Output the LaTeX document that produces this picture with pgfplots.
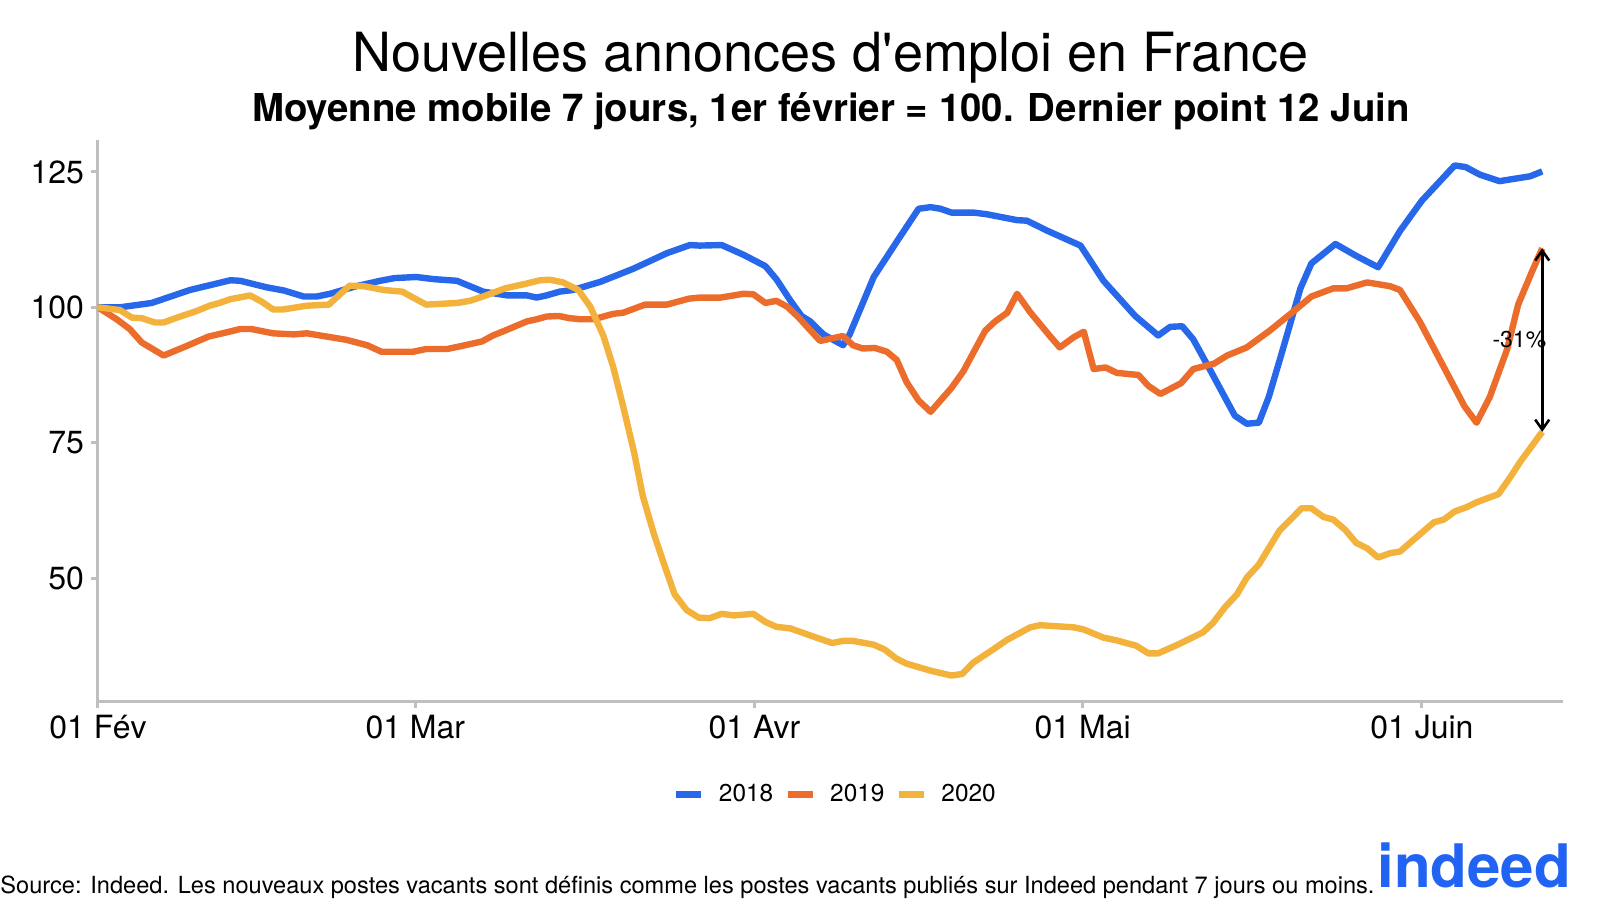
\documentclass[border=0pt]{standalone}
\usepackage{pgfplots}
\pgfplotsset{compat=1.18}
\usepackage{fontspec}
\setmainfont{TeX Gyre Heros}
\usetikzlibrary{arrows.meta}

\definecolor{c18}{HTML}{2767E9}
\definecolor{c19}{HTML}{EC6D2B}
\definecolor{c20}{HTML}{F3B23C}
\definecolor{axgray}{HTML}{BFBFBF}
\definecolor{indeedblue}{HTML}{2164F3}

% day 0 = 1 Feb, values: 7-day moving average, 1 Feb = 100
\pgfplotstableread{
x y
0 100
2 100
4.9 100.8
8.4 103.2
12.1 105.0
13.0 104.9
15.4 103.7
17 103.1
18.8 102.0
20 102.0
21.2 102.5
23.6 103.9
25.8 104.9
27.1 105.4
29.1 105.6
30.7 105.2
32.8 104.9
35.2 102.9
37.4 102.2
39.2 102.2
40.1 101.8
41.0 102.2
42.2 102.9
43.4 103.2
45.9 104.7
48.9 107.1
52.0 110.0
54.1 111.5
55.0 111.4
57.0 111.5
59.0 109.7
61.0 107.6
62.0 105.2
63.3 101.2
64.3 98.4
65.1 97.4
66.3 95.0
68.1 93.0
68.7 95.0
70.9 105.6
73.0 112.1
75.0 118.2
76.1 118.5
77.0 118.2
78.0 117.5
80.0 117.5
81.2 117.2
84.0 116.1
84.9 116.0
86.7 114.2
89.8 111.4
91.9 104.9
94.8 98.4
96.9 94.8
98.0 96.4
99.1 96.5
100.1 94.1
101.6 88.6
103.9 80.0
105.0 78.5
106.1 78.7
107.0 83.4
108.2 91.6
109.9 103.5
110.9 108.1
113.1 111.7
115.0 109.5
117.0 107.4
119.0 114.1
121.0 119.7
124.0 126.2
125.0 125.9
126.3 124.5
128.1 123.3
130.9 124.2
132.0 125.1
}\dataA

\pgfplotstableread{
x y
0 100
1.7 97.8
2.9 96.0
4.0 93.5
6.0 91.1
7.8 92.6
10.1 94.6
11.8 95.4
13.0 96.0
14.0 96.0
16.0 95.2
17.9 95.0
19.1 95.2
20.9 94.6
22.7 94.0
24.6 93.0
25.9 91.8
28.8 91.8
30.0 92.3
31.9 92.3
33.1 92.8
35.1 93.7
36.1 94.8
37.2 95.7
39.2 97.4
40.1 97.8
41.0 98.3
42.1 98.4
43.1 98.0
44.1 97.8
45.3 97.8
47.1 98.8
48.0 99.0
50.0 100.5
52.0 100.5
54.0 101.6
55.0 101.8
56.9 101.8
59.0 102.5
59.9 102.4
61.0 100.8
62.0 101.2
63.0 100.1
64.0 98.2
66.0 93.8
68.1 94.7
69.0 93.0
69.9 92.4
71.0 92.5
72.1 91.8
73.0 90.3
73.9 86.2
75.0 82.8
76.1 80.7
78.0 85.1
79.1 88.2
80.0 91.6
81.1 95.7
82.0 97.4
83.1 99.0
84.0 102.5
85.2 99.1
87.0 94.7
87.9 92.6
89.2 94.5
90.1 95.5
91.0 88.6
92.1 88.9
93.1 87.9
95.1 87.5
96.0 85.5
97.1 84.0
99.0 86.0
100.1 88.6
102.0 89.6
103.2 91.1
105.0 92.6
107.1 95.7
109.0 98.8
110.9 102.0
112.9 103.5
114.1 103.5
116.0 104.6
118.1 103.9
119.0 103.2
120.8 97.4
123.1 88.6
124.9 81.7
126.0 78.7
127.2 83.4
128.8 92.3
129.8 100.5
131.0 106.3
132.0 110.9
}\dataB

\pgfplotstableread{
x y
0 100
2.0 99.5
3.1 98.1
4.0 98.0
5.2 97.2
6.0 97.2
7.5 98.3
9.0 99.3
10.2 100.3
11.1 100.8
12.1 101.5
13.9 102.2
15.0 101.0
16.0 99.6
16.9 99.6
19.1 100.3
21.1 100.5
22.0 102.2
23.0 104.0
24.3 103.9
26.1 103.2
27.8 102.9
28.8 101.8
30.0 100.5
32.8 100.8
34.0 101.2
35.2 102.0
37.2 103.5
39.2 104.4
40.4 105.0
41.3 105.1
42.5 104.6
43.9 103.2
45.0 100.1
46.2 94.7
47.1 88.9
48.0 81.7
49.0 73.2
49.8 65.1
50.8 58.2
51.7 52.8
52.7 47.0
53.8 44.1
54.9 42.7
55.9 42.6
57.0 43.4
58.1 43.1
59.9 43.4
61.0 41.9
62.0 41.0
63.3 40.7
65.1 39.4
67.1 38.0
68.1 38.4
69.0 38.4
70.9 37.7
71.9 36.8
73.0 35.1
73.9 34.2
76.1 32.9
78.0 32.0
79.0 32.3
80.0 34.4
81.8 36.8
83.1 38.6
85.2 40.9
86.1 41.3
89.2 40.9
90.1 40.5
91.9 39.0
93.1 38.5
94.9 37.5
96.0 36.1
96.9 36.1
98.9 37.9
101.0 40.0
101.9 41.7
103.0 44.6
104.1 47.0
105.0 50.1
106.1 52.5
107.0 55.5
108.0 58.8
109.1 61.0
110.0 62.9
110.9 62.9
112.0 61.3
112.9 60.8
114.0 58.9
115.0 56.5
116.0 55.5
117.0 53.8
118.1 54.6
119.0 54.9
121.0 58.4
122.1 60.3
123.0 60.8
124.0 62.3
125.1 63.1
126.0 64.0
128.0 65.5
129.1 68.7
130.0 71.5
132.0 77.0
}\dataC

\begin{document}
\begin{tikzpicture}
\useasboundingbox (-49pt,-102pt) rectangle (751pt,350.5pt);
\begin{axis}[
  at={(0,0)}, anchor=south west,
  scale only axis, width=732.5pt, height=280.5pt,
  xmin=0, xmax=133.9, ymin=27.3, ymax=130.9,
  axis lines*=left,
  axis line style={axgray, line width=1.5pt},
  every tick/.style={axgray, line width=1.5pt},
  tick align=outside, major tick length=3.5pt,
  xtick={0,29,60,90,121},
  xticklabels={01 Fév,01 Mar,01 Avr,01 Mai,01 Juin},
  ytick={50,75,100,125},
  tick label style={font=\fontsize{16}{18}\selectfont, black},
  /pgf/number format/assume math mode=true,
  legend columns=3,
  legend style={draw=none, fill=none, at={(0.504,-0.166)}, anchor=center,
    font=\fontsize{12.2}{14}\selectfont,
    /tikz/every even column/.append style={column sep=3.5pt},
    /tikz/every odd column/.append style={column sep=5pt}},
  legend image code/.code={\draw[#1, line width=3.5pt] (0pt,0pt) -- (12.5pt,0pt);},
]
\addplot[c18, line width=3.2pt, line join=round] table {\dataA};
\addplot[c19, line width=3.2pt, line join=round] table {\dataB};
\addplot[c20, line width=3.2pt, line join=round] table {\dataC};
\legend{2018,2019,2020}
\draw[{Straight Barb[length=5pt,width=7pt]}-{Straight Barb[length=5pt,width=7pt]}, line width=1.3pt]
  (axis cs:132,110.9) -- (axis cs:132,77.0);
\node[anchor=east, inner sep=0pt, font=\fontsize{11.5}{13}\selectfont] at (axis cs:132.4,94) {-31\%};
\end{axis}
\node[font=\fontsize{27}{32}\selectfont] at (366.25pt,321.5pt) {Nouvelles annonces d\textquotesingle emploi en France};
\node[font=\bfseries\fontsize{19.2}{23}\selectfont] at (366.5pt,295pt) {Moyenne mobile 7 jours, 1er février = 100. Dernier point 12 Juin};
\node[anchor=west, inner sep=0pt, font=\fontsize{11.8}{13}\selectfont] at (-49pt,-93pt) {Source: Indeed. Les nouveaux postes vacants sont définis comme les postes vacants publiés sur Indeed pendant 7 jours ou moins.};
\node[font=\bfseries\fontsize{30}{34}\selectfont, text=indeedblue, inner sep=0pt] at (688pt,-82pt) {indeed};
\end{tikzpicture}
\end{document}
